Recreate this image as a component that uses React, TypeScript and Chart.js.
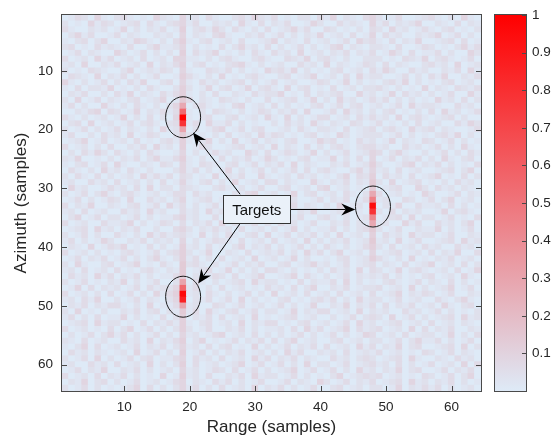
import { useEffect, useRef } from 'react';
import { Chart, registerables } from 'chart.js';

Chart.register(...registerables);

// Axis tick values
const rangeTicks = [10, 20, 30, 40, 50, 60];
const azimuthTicks = [10, 20, 30, 40, 50, 60];
const colorbarTicks = [0.1, 0.2, 0.3, 0.4, 0.5, 0.6, 0.7, 0.8, 0.9, 1];

// Clutter level per cell, one string per azimuth row (64 range cells each),
// each digit is a multiple of clutterStep.
const clutterStep = 0.022;
const clutterRows = [
  '01320410 23101042 10412031 00231421 30102203 14021034 20130012 31020410',
  '20104132 01230310 23413002 12041030 21300142 00312104 13021240 02103021',
  '31002120 14020213 01502314 20310203 01241300 32010203 20412013 10230102',
  '02413001 30210021 20402103 41002130 13020214 01203014 03120021 24013020',
  '10230240 02143102 03510230 12030012 40210301 20130423 10302140 01230301',
  '23010312 10300241 12402010 30241203 02013020 13402102 21030013 20102413',
  '01302100 42013020 20503124 01020310 31204012 02130213 01420301 13020042',
  '30120413 01203012 04411020 23100231 00321402 31020022 20103214 02310130',
  '12040021 30120402 13502301 02341020 12003120 40210132 03021002 31204012',
  '20103210 02401213 20410032 13020104 23140201 02301203 14200312 00213041',
  '03210402 13020130 01531020 40102310 02301240 12030412 20013020 31400213',
  '41020130 20314002 30410312 01230201 30120013 20140201 02314020 10230120',
  '10302214 01020310 02520140 23014023 10402301 03012022 31020104 02103213',
  '02130020 31402103 13510203 00210312 24010302 12300412 01403120 20130041',
  '20401302 10230124 01630210 32102003 01230140 20412013 13020201 04120302',
  '13020041 02031020 24602310 10340120 30201023 01302301 20130412 21003120',
  '00213403 20140213 13610203 21020132 02130400 13041202 02301020 30412013',
  '31020120 14020302 04710230 02301204 10402013 30120313 12040231 01230200',
  '02304012 01302310 23613041 13020100 20312041 02103201 30102030 12003142',
  '20130201 30210204 12602013 40130230 01203102 21030123 02310412 30210013',
  '13002031 20401320 02620102 03012041 32010230 10420122 20130201 02314020',
  '01240130 12030102 31510240 20401302 10230014 23010312 01402103 20130201',
  '30120203 00213041 20501320 01230120 40210302 02310233 12003120 13020410',
  '02031420 31020310 01402013 12004203 01320140 20130124 30241002 01302031',
  '21400102 02130241 13510200 30213014 20102301 14020304 01302130 20410230',
  '10230130 41002103 20410321 02301302 13040210 02130125 20013402 13020103',
  '03102041 20310200 02413020 14020130 20130302 31002414 12030120 01230240',
  '20310302 01204131 30320104 02130041 01203120 10240325 03120301 24010302',
  '12003120 30120203 01410230 20401203 30210041 02130216 20401230 10203120',
  '04120013 12030402 20321002 31020130 02301203 40120106 01230042 03120210',
  '20130241 02310120 13303120 00213401 20140230 12031023 30120104 20013021',
  '01302013 20400312 02401230 13020102 41020013 02130134 12003201 30240120',
  '30214002 10230130 41302013 02401320 01230210 20401207 02140031 12030201',
  '12030120 03120412 00312041 20130023 13002140 01230106 20302120 01402310',
  '02401302 20130201 13412003 01230410 20413002 31020124 01230402 20130103',
  '30120031 12402013 20302130 40201302 03120130 02130213 12004130 03120240',
  '01230412 02130020 03420213 12030120 20140201 13020236 20130021 14020130',
  '20130200 31020413 12310402 03102304 01302130 20401205 03120412 20130021',
  '13020142 00213021 20402013 21030120 30120402 02130126 12040130 01230412',
  '02104013 24010302 01512030 10240213 02013020 31020135 20301203 12003120',
  '30120201 02310130 23520140 02103012 13020413 02401204 01230120 30214003',
  '01302130 13020241 02513020 30120401 20140200 10230125 31020401 02130120',
  '20410023 01240103 10623102 01302130 02301241 20130123 02103012 40120302',
  '12030120 30102310 21601230 14020203 31020102 03120403 20140231 01203014',
  '03120413 02130201 13602013 20301240 01240310 20130212 13020102 30120410',
  '20130102 14020130 02603102 01230412 20103021 13040201 02310130 21030201',
  '01403021 20130312 24613020 30120103 12030240 02130122 30120402 01240130',
  '30120203 01302041 35712031 02013020 40120301 20301203 01240213 20130021',
  '12031400 20130210 24602130 13040201 02301023 13020412 20130120 03102410',
  '02130213 31020401 13612003 20130120 13020140 02140213 03021301 20410230',
  '20401020 02130230 21613041 02301302 20140213 30120402 12003120 13020102',
  '13020301 14020103 02502130 30120401 01230120 02013023 20401302 01230412',
  '01230412 20103021 31510230 12040213 30102301 20130412 01230120 30120210',
  '30120103 02401302 02520130 02130201 12030413 01240312 30120403 02130021',
  '02013024 13020130 20412013 40120302 02013020 13020143 01203012 20140203',
  '21030120 03120402 13502401 01302130 30240120 02301202 20130241 13020130',
  '10240301 20130213 02412030 23010402 01302130 30120413 02140230 01230402',
  '03120210 12040130 20501302 02130120 20413002 12030121 30120103 20130210',
  '20130402 01302301 13403120 30120413 02130210 03120232 01230410 02103120',
  '12003120 30120402 02503012 01240130 13020402 20130123 12030201 30120403',
  '01302140 02130201 20412013 20301302 01240130 13020412 02140230 01302130',
  '30120302 13020104 01512030 02130412 20130201 02401232 30120103 20130240',
  '02140230 20130120 13402103 13020130 01302104 20130213 01230412 02130201',
  '20130201 01240302 02413020 30120402 13020130 02301202 20140213 13020120',
];

// Target returns (range cell, azimuth cell, normalized power)
const peakCol = [19, 19, 19, 19, 19, 19, 19, 19, 19, 19, 48, 48, 48, 48, 48, 48];
const peakRow = [16, 17, 18, 19, 20, 46, 47, 48, 49, 50, 31, 32, 33, 34, 35, 36];
const peakValue = [0.28, 0.55, 1.0, 0.78, 0.3, 0.3, 0.55, 0.96, 0.86, 0.3, 0.28, 0.45, 0.95, 0.78, 0.42, 0.28];

// Annotation anchors in (range, azimuth) coordinates
const ringCol = [19, 19, 48];
const ringRow = [17.9, 48.45, 33.1];
const labelText = 'Targets';
const labelCol = 30.25;
const labelRow = 33.6;
const arrowFromCol = [27.7, 27.7, 35.4];
const arrowFromRow = [31.0, 36.0, 33.6];
const arrowToCol = [20.5, 21.3, 45.3];
const arrowToRow = [20.5, 46.2, 33.6];

const FONT = "'Liberation Sans', Arial, Helvetica, sans-serif";
const INK = '#262626';
const LOW: [number, number, number] = [222, 234, 247];
const HIGH: [number, number, number] = [255, 0, 0];

function colormap(v: number): string {
  const t = Math.max(0, Math.min(1, v));
  const c = LOW.map((lo, i) => Math.round(lo + (HIGH[i] - lo) * t));
  return `rgb(${c[0]},${c[1]},${c[2]})`;
}

function buildGrid(): number[][] {
  const grid = clutterRows.map((row) => {
    const digits = row.replace(/\s/g, '').padEnd(64, '0').slice(0, 64);
    return digits.split('').map((ch) => Number(ch) * clutterStep);
  });
  peakCol.forEach((c, i) => {
    grid[peakRow[i] - 1][c - 1] = peakValue[i];
  });
  return grid;
}

const heatBackground = {
  id: 'heatBackground',
  beforeDatasetsDraw(chart: any) {
    const { ctx, chartArea: a } = chart;
    ctx.save();
    ctx.fillStyle = colormap(0);
    ctx.fillRect(a.left, a.top, a.right - a.left, a.bottom - a.top);
    ctx.restore();
  },
};

function drawArrow(ctx: CanvasRenderingContext2D, x0: number, y0: number, x1: number, y1: number) {
  const dx = x1 - x0;
  const dy = y1 - y0;
  const len = Math.hypot(dx, dy);
  const ux = dx / len;
  const uy = dy / len;
  const nx = -uy;
  const ny = ux;
  const L = 14;
  const W = 6;
  const notch = 0.68 * L;
  ctx.beginPath();
  ctx.moveTo(x0, y0);
  ctx.lineTo(x1 - ux * notch, y1 - uy * notch);
  ctx.stroke();
  ctx.beginPath();
  ctx.moveTo(x1, y1);
  ctx.lineTo(x1 - ux * L + nx * W, y1 - uy * L + ny * W);
  ctx.lineTo(x1 - ux * notch, y1 - uy * notch);
  ctx.lineTo(x1 - ux * L - nx * W, y1 - uy * L - ny * W);
  ctx.closePath();
  ctx.fill();
}

const frameAndNotes = {
  id: 'frameAndNotes',
  afterDraw(chart: any) {
    const { ctx, chartArea: a, scales } = chart;
    const xs = scales.x;
    const ys = scales.y;
    const cb = scales.cb;
    ctx.save();

    // axes box with inward ticks
    ctx.strokeStyle = '#4a4a4a';
    ctx.lineWidth = 1;
    ctx.strokeRect(a.left - 0.5, a.top - 0.5, a.right - a.left + 1, a.bottom - a.top + 1);
    const tl = 5;
    ctx.beginPath();
    rangeTicks.forEach((v) => {
      const px = Math.round(xs.getPixelForValue(v)) + 0.5;
      ctx.moveTo(px, a.bottom);
      ctx.lineTo(px, a.bottom - tl);
      ctx.moveTo(px, a.top);
      ctx.lineTo(px, a.top + tl);
    });
    azimuthTicks.forEach((v) => {
      const py = Math.round(ys.getPixelForValue(v)) + 0.5;
      ctx.moveTo(a.left, py);
      ctx.lineTo(a.left + tl, py);
      ctx.moveTo(a.right, py);
      ctx.lineTo(a.right - tl, py);
    });
    ctx.stroke();

    // colorbar
    const cbLeft = a.right + 14;
    const cbWidth = 31;
    const yTop = cb.getPixelForValue(1);
    const yBot = cb.getPixelForValue(0);
    const grad = ctx.createLinearGradient(0, yBot, 0, yTop);
    grad.addColorStop(0, colormap(0));
    grad.addColorStop(1, colormap(1));
    ctx.fillStyle = grad;
    ctx.fillRect(cbLeft, yTop, cbWidth, yBot - yTop);
    ctx.strokeStyle = '#4a4a4a';
    ctx.strokeRect(cbLeft - 0.5, yTop - 0.5, cbWidth + 1, yBot - yTop + 1);
    ctx.beginPath();
    colorbarTicks.forEach((v) => {
      const py = Math.round(cb.getPixelForValue(v)) + 0.5;
      ctx.moveTo(cbLeft + cbWidth, py);
      ctx.lineTo(cbLeft + cbWidth - 4, py);
    });
    ctx.stroke();

    // target rings
    ctx.strokeStyle = '#1a1a1a';
    ctx.lineWidth = 1;
    ringCol.forEach((c, i) => {
      const cx = xs.getPixelForValue(c);
      const cy = ys.getPixelForValue(ringRow[i]);
      ctx.beginPath();
      ctx.ellipse(cx, cy, 17.5, 20.5, 0, 0, Math.PI * 2);
      ctx.stroke();
    });

    // arrows
    ctx.strokeStyle = '#000';
    ctx.fillStyle = '#000';
    arrowFromCol.forEach((c, i) => {
      drawArrow(
        ctx,
        xs.getPixelForValue(c),
        ys.getPixelForValue(arrowFromRow[i]),
        xs.getPixelForValue(arrowToCol[i]),
        ys.getPixelForValue(arrowToRow[i])
      );
    });

    // label box
    const lx = xs.getPixelForValue(labelCol);
    const ly = ys.getPixelForValue(labelRow);
    const bw = 67;
    const bh = 28;
    ctx.fillStyle = 'rgb(234,241,249)';
    ctx.fillRect(lx - bw / 2, ly - bh / 2, bw, bh);
    ctx.strokeStyle = '#333';
    ctx.strokeRect(Math.round(lx - bw / 2) + 0.5, Math.round(ly - bh / 2) + 0.5, bw, bh);
    ctx.fillStyle = '#111';
    ctx.font = `15px ${FONT}`;
    ctx.textAlign = 'center';
    ctx.textBaseline = 'middle';
    ctx.fillText(labelText, lx, ly + 1);

    ctx.restore();
  },
};

// Spacer ticks: invisible tick marks push the labels away from the axis
// without inflating the layout padding the way ticks.padding does.
function spacerGrid(length: number) {
  return {
    display: true,
    drawOnChartArea: false,
    drawTicks: true,
    tickLength: length,
    tickColor: 'rgba(0,0,0,0)',
    color: 'rgba(0,0,0,0)',
  };
}

export default function App() {
  const ref = useRef<HTMLCanvasElement>(null);

  useEffect(() => {
    const grid = buildGrid();
    const cells: { x: number; y: [number, number] }[] = [];
    const colors: string[] = [];
    grid.forEach((row, r) => {
      row.forEach((v, c) => {
        cells.push({ x: c + 1, y: [r + 0.5, r + 1.5] });
        colors.push(colormap(v));
      });
    });

    const tickFont = { family: FONT, size: 13.5 };
    const titleFont = { family: FONT, size: 17 };

    const chart = new Chart(ref.current as HTMLCanvasElement, {
      type: 'bar',
      data: {
        datasets: [
          {
            data: cells as any,
            backgroundColor: colors,
            borderWidth: 0,
            barPercentage: 1,
            categoryPercentage: 1,
          },
        ],
      },
      options: {
        animation: false,
        responsive: false,
        events: [],
        layout: { padding: { top: 15, left: 0, right: 0, bottom: 0 }, autoPadding: false } as any,
        plugins: { legend: { display: false }, tooltip: { enabled: false } },
        scales: {
          x: {
            type: 'linear',
            position: 'bottom',
            min: 0.5,
            max: 64.5,
            offset: false,
            grid: spacerGrid(8),
            border: { display: false },
            afterBuildTicks: (s: any) => {
              s.ticks = rangeTicks.map((v) => ({ value: v }));
            },
            afterFit: (s: any) => {
              s.height = 50;
            },
            ticks: {
              font: tickFont,
              color: INK,
              padding: 0,
              maxRotation: 0,
              autoSkip: false,
              callback: (v: any) => String(v),
            },
            title: {
              display: true,
              text: 'Range (samples)',
              font: titleFont,
              color: INK,
              padding: { top: 0, bottom: 3 },
            },
          },
          y: {
            type: 'linear',
            position: 'left',
            reverse: true,
            min: 0.5,
            max: 64.5,
            grid: spacerGrid(9),
            border: { display: false },
            afterBuildTicks: (s: any) => {
              s.ticks = azimuthTicks.map((v) => ({ value: v }));
            },
            afterFit: (s: any) => {
              s.width = 62;
            },
            ticks: {
              font: tickFont,
              color: INK,
              padding: 0,
              autoSkip: false,
              callback: (v: any) => String(v),
            },
            title: {
              display: true,
              text: 'Azimuth (samples)',
              font: titleFont,
              color: INK,
              padding: { top: 11, bottom: 0 },
            },
          },
          cb: {
            type: 'linear',
            position: 'right',
            min: 0,
            max: 1,
            grid: spacerGrid(51),
            border: { display: false },
            afterBuildTicks: (s: any) => {
              s.ticks = colorbarTicks.map((v) => ({ value: v }));
            },
            afterFit: (s: any) => {
              s.width = 71;
            },
            ticks: {
              font: tickFont,
              color: INK,
              padding: 0,
              autoSkip: false,
              callback: (v: any) => String(Math.round(Number(v) * 10) / 10),
            },
          },
        } as any,
      },
      plugins: [heatBackground, frameAndNotes],
    });

    return () => chart.destroy();
  }, []);

  return (
    <div style={{ position: 'absolute', left: 0, top: 0, width: 552, height: 441, background: '#fff' }}>
      <canvas ref={ref} width={552} height={441} style={{ display: 'block', width: 552, height: 441 }} />
    </div>
  );
}
